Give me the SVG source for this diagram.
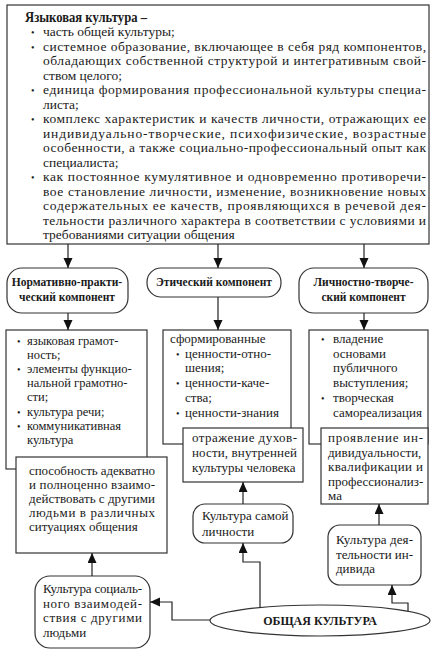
<svg xmlns="http://www.w3.org/2000/svg" width="436" height="651" viewBox="0 0 436 651">
<defs>
<marker id="arr" markerUnits="userSpaceOnUse" markerWidth="10" markerHeight="10" refX="10" refY="4.5" orient="auto">
<path d="M0,0 L10,4.5 L0,9 z" fill="#111"/>
</marker>
</defs>
<style>
.box{fill:#fff;stroke:#333;stroke-width:1.2}
.t{font-family:"Liberation Serif","Times New Roman",serif;font-size:13.5px;fill:#1a1a1a}
.s{font-family:"Liberation Serif","Times New Roman",serif;font-size:13px;fill:#1a1a1a}
.sm{font-family:"Liberation Serif","Times New Roman",serif;font-size:12.5px;fill:#1a1a1a}
.h{font-family:"Liberation Serif","Times New Roman",serif;font-size:14.5px;font-weight:bold;fill:#1a1a1a}
.n{font-family:"Liberation Serif","Times New Roman",serif;font-size:11.5px;font-weight:bold;fill:#1a1a1a;text-anchor:middle}
.o{font-family:"Liberation Serif","Times New Roman",serif;font-size:12px;font-weight:bold;fill:#1a1a1a;text-anchor:middle}
.bul{font-size:10px}
.c{fill:none;stroke:#222;stroke-width:1.2}
</style>
<rect width="436" height="651" fill="#fff"/>

<g id="language-culture">
<rect class="box" x="7" y="5" width="422" height="239"/>
<text class="h" x="25" y="22" textLength="122" lengthAdjust="spacingAndGlyphs">Языковая культура –</text>
<text class="t bul" x="31" y="36.3">•</text>
<text class="t" x="43" y="36.3">часть общей культуры;</text>
<text class="t bul" x="31" y="50.8">•</text>
<text class="t" x="43" y="50.8" textLength="383" lengthAdjust="spacing">системное образование, включающее в себя ряд компонентов,</text>
<text class="t" x="43" y="65.3" textLength="383" lengthAdjust="spacing">обладающих собственной структурой и интегративным свой-</text>
<text class="t" x="43" y="79.8">ством целого;</text>
<text class="t bul" x="31" y="94.3">•</text>
<text class="t" x="43" y="94.3" textLength="383" lengthAdjust="spacing">единица формирования профессиональной культуры специа-</text>
<text class="t" x="43" y="108.8">листа;</text>
<text class="t bul" x="31" y="123.3">•</text>
<text class="t" x="43" y="123.3" textLength="383" lengthAdjust="spacing">комплекс характеристик и качеств личности, отражающих ее</text>
<text class="t" x="43" y="137.8" textLength="383" lengthAdjust="spacing">индивидуально-творческие,   психофизические,   возрастные</text>
<text class="t" x="43" y="152.3" textLength="383" lengthAdjust="spacing">особенности, а также социально-профессиональный опыт как</text>
<text class="t" x="43" y="166.8">специалиста;</text>
<text class="t bul" x="31" y="181.3">•</text>
<text class="t" x="43" y="181.3" textLength="383" lengthAdjust="spacing">как постоянное кумулятивное и одновременно противоречи-</text>
<text class="t" x="43" y="195.8" textLength="383" lengthAdjust="spacing">вое становление личности, изменение, возникновение новых</text>
<text class="t" x="43" y="210.3" textLength="383" lengthAdjust="spacing">содержательных ее качеств, проявляющихся в речевой дея-</text>
<text class="t" x="43" y="224.8" textLength="383" lengthAdjust="spacing">тельности различного характера в соответствии с условиями и</text>
<text class="t" x="43" y="239.3">требованиями ситуации общения</text>
</g>

<g id="normative-component">
<rect class="box" x="7" y="268" width="121" height="45" rx="15"/>
<text class="n" x="67" y="286">Нормативно-практи-</text>
<text class="n" x="67" y="301">ческий компонент</text>
</g>

<g id="ethical-component">
<rect class="box" x="147" y="268" width="134" height="29" rx="14"/>
<text class="n" x="214" y="286">Этический компонент</text>
</g>

<g id="creative-component">
<rect class="box" x="299" y="268" width="129" height="45" rx="15"/>
<text class="n" x="363.5" y="286">Личностно-творче-</text>
<text class="n" x="363.5" y="301">ский компонент</text>
</g>

<g id="normative-list">
<rect class="box" x="6" y="330" width="141" height="139"/>
<text class="sm bul" x="17" y="345">•</text>
<text class="sm" x="27" y="345">языковая грамот-</text>
<text class="sm" x="27" y="358.7">ность;</text>
<text class="sm bul" x="17" y="373.4">•</text>
<text class="sm" x="27" y="373.4">элементы функцио-</text>
<text class="sm" x="27" y="387.1">нальной грамотно-</text>
<text class="sm" x="27" y="400.8">сти;</text>
<text class="sm bul" x="17" y="415.5">•</text>
<text class="sm" x="27" y="415.5">культура речи;</text>
<text class="sm bul" x="17" y="430.2">•</text>
<text class="sm" x="27" y="430.2">коммуникативная</text>
<text class="sm" x="27" y="443.9">культура</text>
</g>

<g id="ethical-list">
<rect class="box" x="163" y="330" width="128" height="114"/>
<text class="s" x="170" y="343">сформированные</text>
<text class="s bul" x="176" y="357.5">•</text>
<text class="s" x="185" y="357.5">ценности-отно-</text>
<text class="s" x="185" y="372">шения;</text>
<text class="s bul" x="176" y="387">•</text>
<text class="s" x="185" y="387">ценности-каче-</text>
<text class="s" x="185" y="401.5">ства;</text>
<text class="s bul" x="176" y="416.5">•</text>
<text class="s" x="185" y="416.5">ценности-знания</text>
</g>

<g id="creative-list">
<rect class="box" x="309" y="330" width="119" height="114"/>
<text class="s bul" x="321" y="343">•</text>
<text class="s" x="333" y="343">владение</text>
<text class="s" x="333" y="357.5">основами</text>
<text class="s" x="333" y="372">публичного</text>
<text class="s" x="333" y="387">выступления;</text>
<text class="s bul" x="321" y="401.5">•</text>
<text class="s" x="333" y="401.5">творческая</text>
<text class="s" x="333" y="416.5">самореализация</text>
</g>

<g id="social-ability">
<rect class="box" x="16" y="457" width="151" height="96"/>
<text class="s" x="29" y="475" textLength="126" lengthAdjust="spacing">способность адекватно</text>
<text class="s" x="29" y="489" textLength="126" lengthAdjust="spacing">и полноценно взаимо-</text>
<text class="s" x="29" y="503" textLength="126" lengthAdjust="spacing">действовать с другими</text>
<text class="s" x="29" y="517" textLength="126" lengthAdjust="spacing">людьми  в  различных</text>
<text class="s" x="29" y="531">ситуациях общения</text>
</g>

<g id="spirituality">
<rect class="box" x="183" y="428" width="120" height="54"/>
<text class="s" x="192" y="442" textLength="105" lengthAdjust="spacing">отражение  духов-</text>
<text class="s" x="192" y="457" textLength="105" lengthAdjust="spacing">ности, внутренней</text>
<text class="s" x="192" y="472">культуры человека</text>
</g>

<g id="individuality">
<rect class="box" x="321" y="428" width="107" height="76"/>
<text class="s" x="328" y="442" textLength="95" lengthAdjust="spacing">проявление  ин-</text>
<text class="s" x="328" y="456.5">дивидуальности,</text>
<text class="s" x="328" y="471" textLength="95" lengthAdjust="spacing">квалификации и</text>
<text class="s" x="328" y="485.5">профессионализ-</text>
<text class="s" x="328" y="500">ма</text>
</g>

<g id="personal-culture">
<rect class="box" x="193" y="504" width="100" height="39" rx="12"/>
<text class="s" x="202" y="520">Культура самой</text>
<text class="s" x="202" y="536">личности</text>
</g>

<g id="activity-culture">
<rect class="box" x="328" y="525" width="93" height="60" rx="12"/>
<text class="s" x="336" y="544" textLength="77" lengthAdjust="spacing">Культура  дея-</text>
<text class="s" x="336" y="558.5" textLength="77" lengthAdjust="spacing">тельности  ин-</text>
<text class="s" x="336" y="573">дивида</text>
</g>

<g id="social-culture">
<rect class="box" x="35" y="576" width="115" height="72" rx="15"/>
<text class="s" x="43" y="593" textLength="99" lengthAdjust="spacing">Культура социаль-</text>
<text class="s" x="43" y="607.5" textLength="99" lengthAdjust="spacing">ного   взаимодей-</text>
<text class="s" x="43" y="622" textLength="99" lengthAdjust="spacing">ствия  с  другими</text>
<text class="s" x="43" y="636.5">людьми</text>
</g>

<g id="general-culture">
<ellipse class="box" cx="320" cy="620.5" rx="110" ry="15.5"/>
<text class="o" x="320" y="625">ОБЩАЯ КУЛЬТУРА</text>
</g>

<g id="connectors">
<path class="c" d="M68,244 V268" marker-end="url(#arr)"/>
<path class="c" d="M218,244 V268" marker-end="url(#arr)"/>
<path class="c" d="M364,244 V268" marker-end="url(#arr)"/>
<path class="c" d="M68,313 V330" marker-end="url(#arr)"/>
<path class="c" d="M218,297 V330" marker-end="url(#arr)"/>
<path class="c" d="M364,313 V330" marker-end="url(#arr)"/>
<path class="c" d="M92,576 V553" marker-end="url(#arr)"/>
<path class="c" d="M243,504 V482" marker-end="url(#arr)"/>
<path class="c" d="M379,525 V504" marker-end="url(#arr)"/>
<path class="c" d="M210,620 H172 V602 H150" marker-end="url(#arr)"/>
<path class="c" d="M260,607.5 V562 H243 V543" marker-end="url(#arr)"/>
<path class="c" d="M408,611 V603 H392 V585" marker-end="url(#arr)"/>
</g>
</svg>
